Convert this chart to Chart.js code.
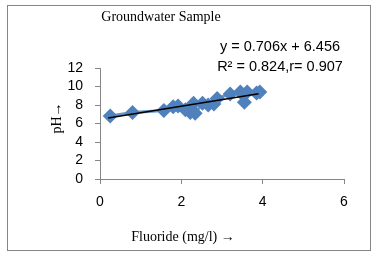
<!DOCTYPE html>
<html>
<head>
<meta charset="utf-8">
<script src="https://cdn.jsdelivr.net/npm/chart.js@4"></script>
<style>
  body { margin: 0; background: #fff; }
</style>
</head>
<body>
<canvas id="chart" width="378" height="257"></canvas>
<script>
// fluoride (mg/l) vs pH
const fluoride = [0.25, 0.8, 1.57, 1.8, 1.92, 2.1, 2.22, 2.3, 2.34, 2.52, 2.66, 2.8, 2.88, 3.2, 3.45, 3.55, 3.62, 3.85, 3.93];
const ph = [6.8, 7.2, 7.4, 7.8, 7.9, 7.5, 7.2, 8.2, 7.1, 8.2, 8.0, 8.1, 8.7, 9.2, 9.4, 8.3, 9.4, 9.3, 9.4];
const trendX = [0.2, 3.9];
const trendY = [6.6, 9.21];
const xTicks = [0, 2, 4, 6];
const yTicks = [0, 2, 4, 6, 8, 10, 12];
const titleText = 'Groundwater Sample';
const equationLines = ['y = 0.706x + 6.456', 'R² = 0.824,r= 0.907'];
const xTitle = 'Fluoride (mg/l) →';
const yTitle = 'pH→';

const gray = '#868686';
const blue = '#4F81BD';

const decorations = {
    id: 'decorations',
    beforeDraw(chart) {
        const c = chart.ctx;
        c.save();
        c.fillStyle = '#fff';
        c.fillRect(0, 0, chart.width, chart.height);
        c.strokeStyle = gray;
        c.lineWidth = 1;
        c.strokeRect(7.5, 5.5, 363, 245);
        c.restore();
    },
    afterDraw(chart) {
        const c = chart.ctx;
        c.save();
        c.fillStyle = '#000';
        c.textBaseline = 'middle';
        c.textAlign = 'center';
        c.font = '14px "Liberation Serif", serif';
        c.fillText(titleText, 161, 17);
        c.fillText(xTitle, 183, 237);

        c.translate(57, 118);
        c.rotate(-Math.PI / 2);
        c.fillText(yTitle, 0, 0);
        c.restore();

        c.save();
        c.fillStyle = '#000';
        c.textBaseline = 'middle';
        c.textAlign = 'center';
        c.font = '14.5px "Liberation Sans", sans-serif';
        c.fillText(equationLines[0], 280, 47);
        c.fillText(equationLines[1], 280, 67);
        c.restore();
    },
};

const tickFont = { family: '"Liberation Sans", sans-serif', size: 14 };

new Chart(document.getElementById('chart'), {
    type: 'scatter',
    data: {
        datasets: [
            {
                label: 'Trend',
                data: trendX.map((x, i) => ({ x, y: trendY[i] })),
                showLine: true,
                borderColor: '#000',
                borderWidth: 1.5,
                pointRadius: 0,
                order: 0,
            },
            {
                label: 'pH',
                data: fluoride.map((x, i) => ({ x, y: ph[i] })),
                showLine: true,
                borderColor: 'rgba(79,129,189,0.85)',
                borderWidth: 3,
                pointStyle: 'rectRot',
                pointRadius: 7.5,
                backgroundColor: blue,
                pointBorderWidth: 0,
                order: 1,
            },
        ],
    },
    options: {
        responsive: false,
        animation: false,
        layout: {
            padding: { top: 68, right: 34, left: 0, bottom: 0 },
        },
        scales: {
            x: {
                type: 'linear',
                min: 0,
                max: 6,
                afterFit: (s) => { s.height = 78; },
                afterBuildTicks: (s) => { s.ticks = xTicks.map((v) => ({ value: v })); },
                ticks: { color: '#000', font: tickFont, padding: 10, autoSkip: false, maxRotation: 0 },
                grid: { drawOnChartArea: false, color: gray, tickLength: 5 },
                border: { color: gray },
            },
            y: {
                type: 'linear',
                min: 0,
                max: 12,
                afterFit: (s) => { s.width = 100; },
                afterBuildTicks: (s) => { s.ticks = yTicks.map((v) => ({ value: v })); },
                ticks: { color: '#000', font: tickFont, padding: 12, autoSkip: false },
                grid: { drawOnChartArea: false, color: gray, tickLength: 5 },
                border: { color: gray },
            },
        },
        plugins: {
            legend: { display: false },
            tooltip: { enabled: false },
        },
    },
    plugins: [decorations],
});
</script>
</body>
</html>
